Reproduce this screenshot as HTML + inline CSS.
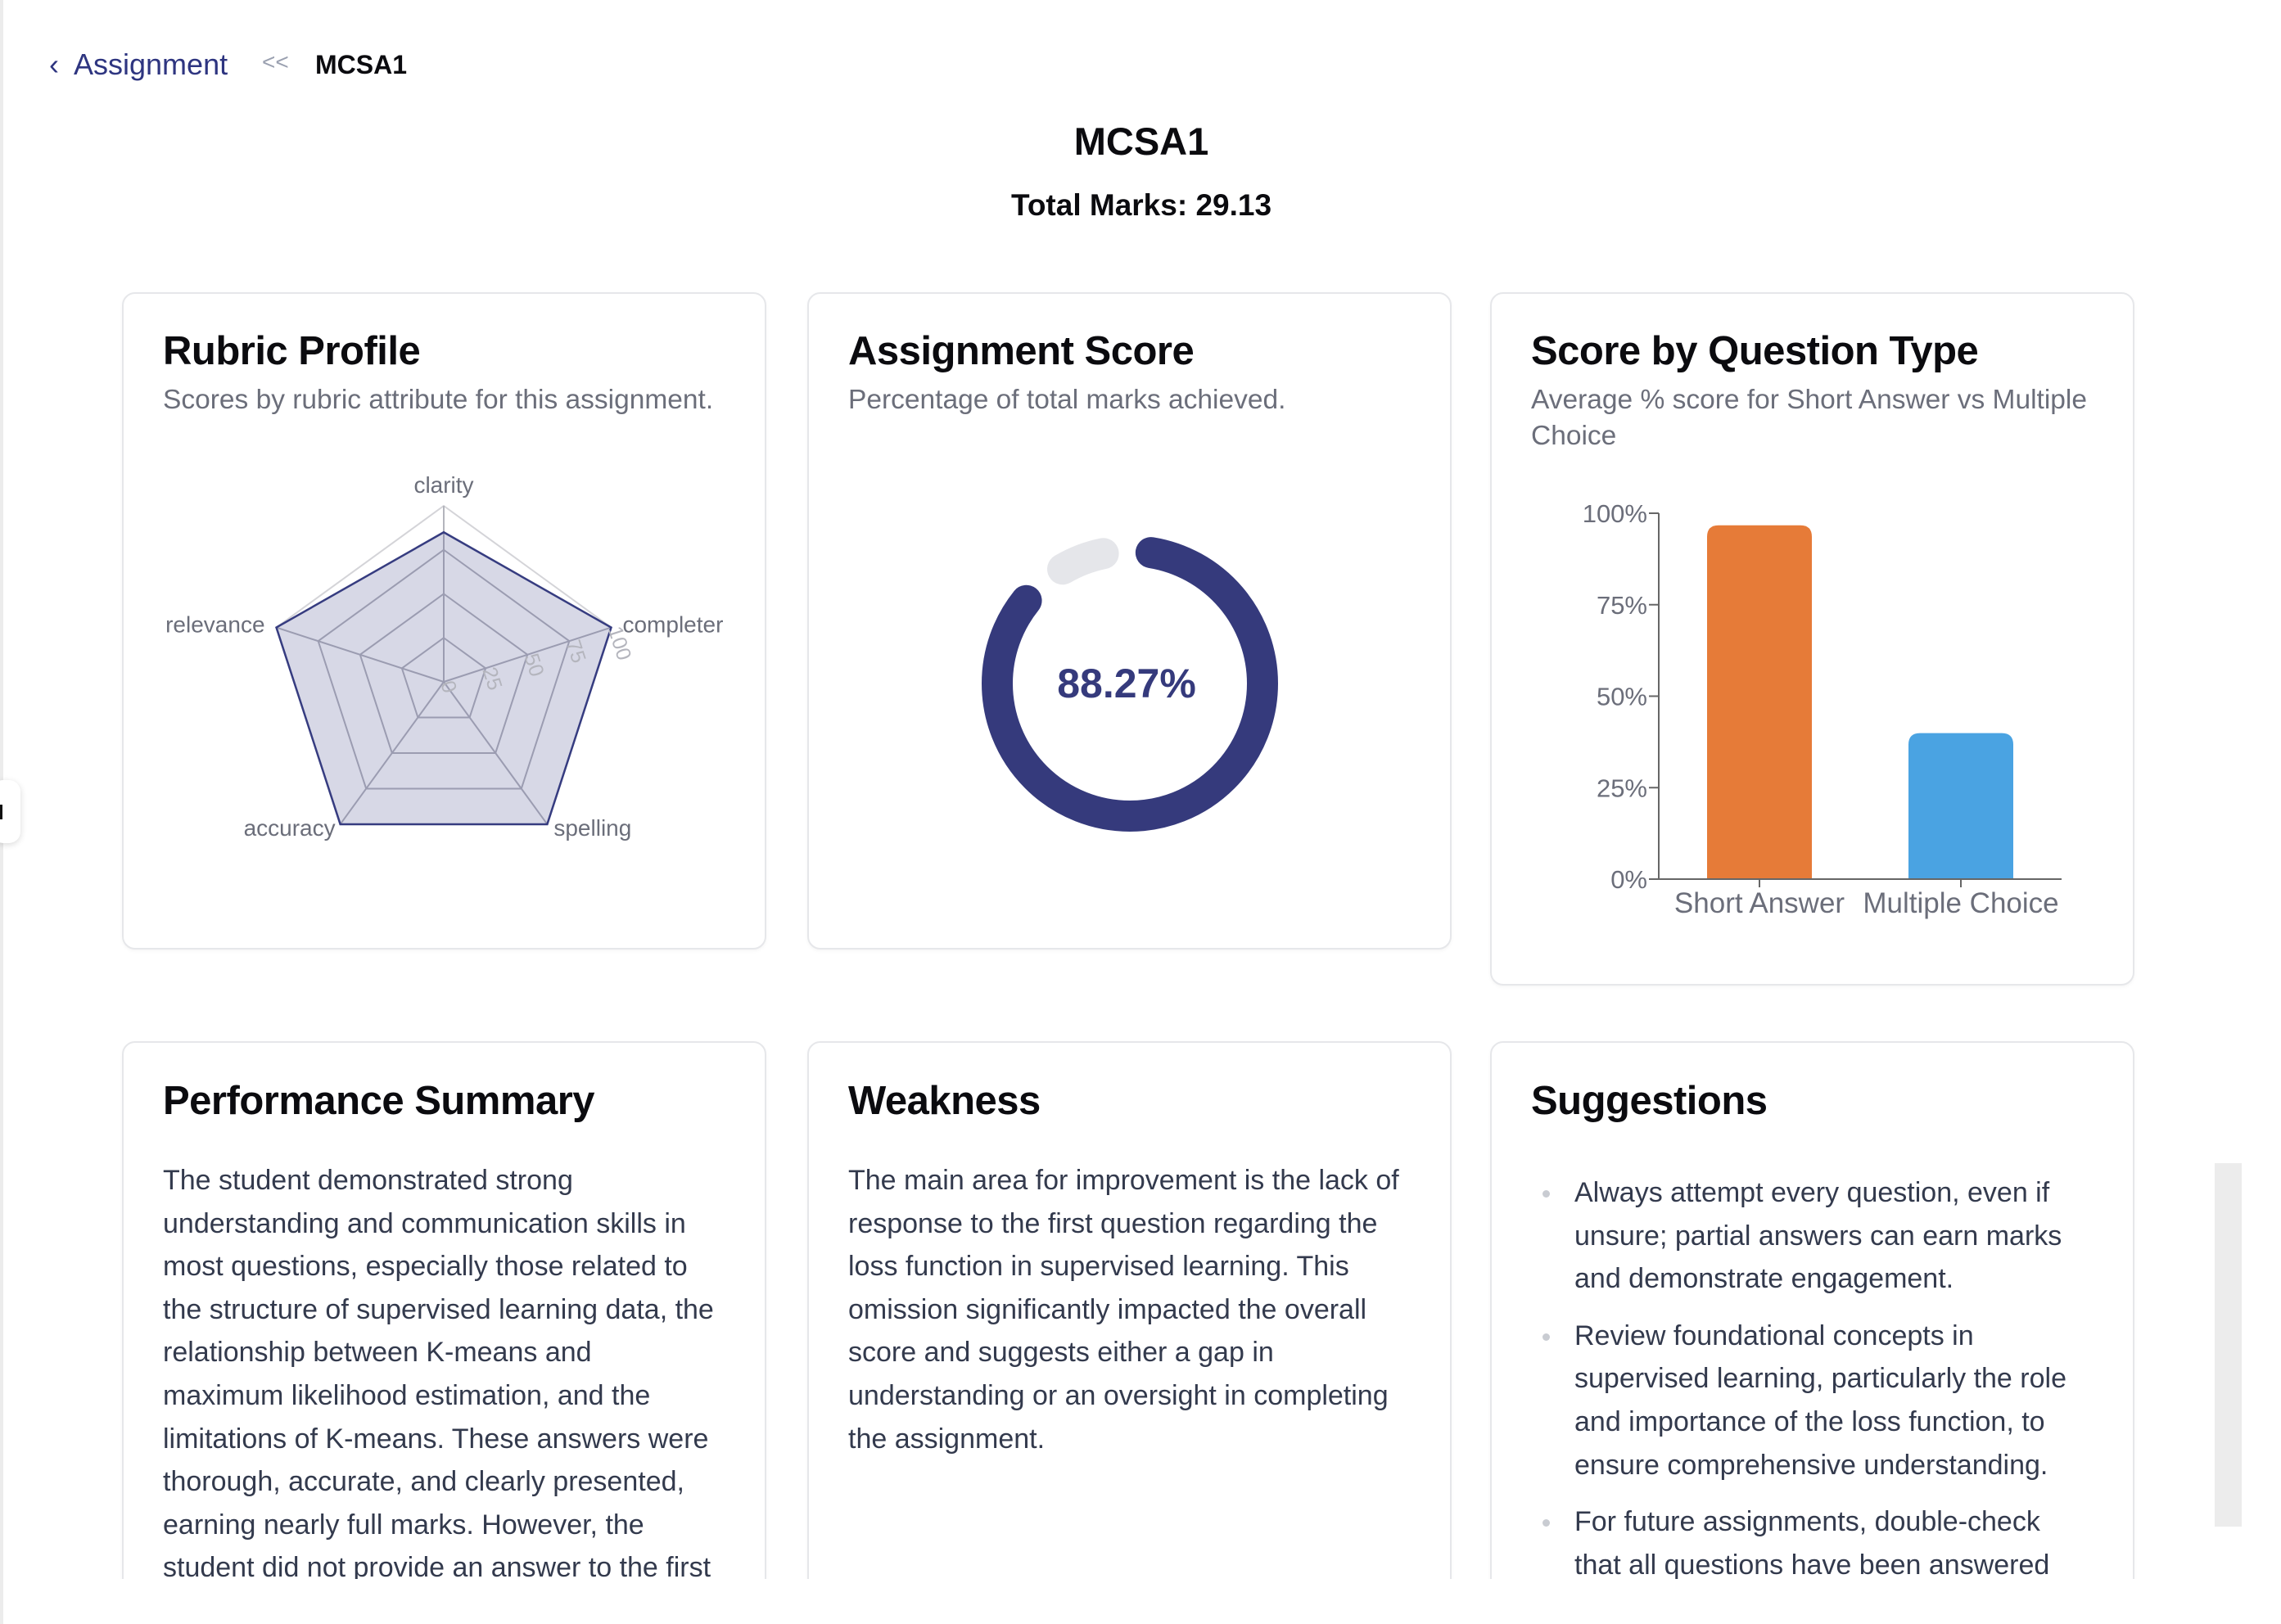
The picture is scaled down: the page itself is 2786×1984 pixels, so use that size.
<!DOCTYPE html>
<html><head><meta charset="utf-8">
<style>
*{box-sizing:border-box;margin:0;padding:0}
html,body{width:2786px;height:1984px;overflow:hidden}
body{background:#fff;font-family:"Liberation Sans",sans-serif;position:relative;color:#333a4d}
.abs{position:absolute;white-space:nowrap}
.card{position:absolute;background:#fff;border:2px solid #e6e7ea;border-radius:16px;box-shadow:0 2px 4px rgba(0,0,0,0.04)}
.ct{position:absolute;left:48px;font-size:49px;font-weight:bold;color:#0b0b0f;letter-spacing:-0.5px;white-space:nowrap}
.cs{position:absolute;left:48px;font-size:33.5px;color:#6b6e7a;line-height:44px;white-space:nowrap}
.body{position:absolute;left:48px;font-size:34px;line-height:52.6px;color:#333a4d;white-space:nowrap}
.li{position:relative;padding-left:53px}
.li:before{content:"";position:absolute;left:14px;top:23px;width:9px;height:9px;border-radius:50%;background:#c9ccd2}
</style></head><body>
<div class="abs" style="left:0;top:0;width:4px;height:1984px;background:#ececec"></div>
<div class="abs" style="left:-10px;top:953px;width:35px;height:77px;background:#fff;border-radius:14px;box-shadow:0 2px 8px rgba(0,0,0,0.15)"><div style="position:absolute;left:10px;top:30px;width:3px;height:18px;background:#111"></div></div>
<div class="abs" style="left:2705px;top:1421px;width:33px;height:444px;background:#ececec"></div>

<div class="abs" style="left:60px;top:58px;font-size:36px;color:#2e3580">‹&nbsp; Assignment</div>
<div class="abs" style="left:320px;top:60px;font-size:28px;color:#9aa0b0">&lt;&lt;</div>
<div class="abs" style="left:385px;top:61px;font-size:32px;font-weight:bold;color:#0b0b0f">MCSA1</div>
<div class="abs" style="left:0;width:2788px;text-align:center;top:145px;font-size:47px;font-weight:bold;color:#0b0b0f">MCSA1</div>
<div class="abs" style="left:0;width:2788px;text-align:center;top:230px;font-size:37px;font-weight:bold;color:#0b0b0f">Total Marks: 29.13</div>

<!-- Rubric card -->
<div class="card" style="left:149px;top:357px;width:787px;height:803px">
<div class="ct" style="top:42px">Rubric Profile</div>
<div class="cs" style="top:108px">Scores by rubric attribute for this assignment.</div>
</div>
<svg id="radar" class="abs" style="left:0;top:0" width="1000" height="1200"></svg>

<!-- Score card -->
<div class="card" style="left:986px;top:357px;width:787px;height:803px">
<div class="ct" style="top:42px">Assignment Score</div>
<div class="cs" style="top:108px">Percentage of total marks achieved.</div>
</div>
<svg id="donut" class="abs" style="left:1180px;top:635px" width="400" height="400"></svg>

<!-- Question type card -->
<div class="card" style="left:1820px;top:357px;width:787px;height:847px">
<div class="ct" style="top:42px">Score by Question Type</div>
<div class="cs" style="top:108px">Average % score for Short Answer vs Multiple<br>Choice</div>
</div>
<svg id="bars" class="abs" style="left:1852px;top:560px" width="800" height="620"></svg>

<!-- Row 2 -->
<div class="abs" style="left:0;top:1269px;width:2786px;height:660px;overflow:hidden">
<div class="card" style="left:149px;top:3px;width:787px;height:900px">
<div class="ct" style="top:43px">Performance Summary</div>
<div class="body" style="top:142px">The student demonstrated strong<br>understanding and communication skills in<br>most questions, especially those related to<br>the structure of supervised learning data, the<br>relationship between K-means and<br>maximum likelihood estimation, and the<br>limitations of K-means. These answers were<br>thorough, accurate, and clearly presented,<br>earning nearly full marks. However, the<br>student did not provide an answer to the first</div>
</div>
<div class="card" style="left:986px;top:3px;width:787px;height:900px">
<div class="ct" style="top:43px">Weakness</div>
<div class="body" style="top:142px">The main area for improvement is the lack of<br>response to the first question regarding the<br>loss function in supervised learning. This<br>omission significantly impacted the overall<br>score and suggests either a gap in<br>understanding or an oversight in completing<br>the assignment.</div>
</div>
<div class="card" style="left:1820px;top:3px;width:787px;height:900px">
<div class="ct" style="top:43px">Suggestions</div>
<div class="body" style="top:157px;left:48px">
<div class="li" style="margin-bottom:17px">Always attempt every question, even if<br>unsure; partial answers can earn marks<br>and demonstrate engagement.</div>
<div class="li" style="margin-bottom:17px">Review foundational concepts in<br>supervised learning, particularly the role<br>and importance of the loss function, to<br>ensure comprehensive understanding.</div>
<div class="li">For future assignments, double-check<br>that all questions have been answered</div>
</div>
</div>
</div>

<script>
const NS="http://www.w3.org/2000/svg";
function mk(parent,tag,attrs){const e=document.createElementNS(NS,tag);for(const k in attrs)e.setAttribute(k,attrs[k]);parent.appendChild(e);return e;}

// ---- Radar data ----
const radarAxes=["clarity","completer","spelling","accuracy","relevance"];
const radarValues=[85,100,100,100,100];
const radarTicks=[0,25,50,75,100];
(function(){
const svg=document.getElementById('radar');
const cx=542,cy=833,R=215;
const ang=i=>-Math.PI/2+i*2*Math.PI/radarAxes.length;
const pt=(i,v)=>[cx+Math.cos(ang(i))*R*v/100,cy+Math.sin(ang(i))*R*v/100];
radarTicks.forEach(t=>{if(t===0)return;
  const p=mk(svg,'polygon',{points:radarAxes.map((a,i)=>pt(i,t).join(',')).join(' '),fill:'none',stroke:t===100?'#d4d4d8':'#b4b5bd','stroke-width':2});
  
  
});
radarAxes.forEach((a,i)=>{const e=pt(i,100);
  const l=mk(svg,'line',{x1:cx,y1:cy,x2:e[0],y2:e[1],stroke:'#b4b5bd','stroke-width':2});
  
  
});
const poly=mk(svg,'polygon',{points:radarValues.map((v,i)=>pt(i,v).join(',')).join(' '),fill:'rgba(54,60,128,0.2)',stroke:'#363c80','stroke-width':2.5});


radarTicks.forEach(t=>{const p=pt(1,t);
  const tx=mk(svg,'text',{x:p[0]-4,y:p[1]+2,'font-size':25,fill:'#b4b5bd','font-family':'Liberation Sans, sans-serif',transform:'rotate(72 '+(p[0]-4)+' '+(p[1]+2)+')'});
  tx.textContent=t;
  
  
});
const anchors=['middle','start','start','end','end'];
const offs=[[0,-16],[14,6],[8,14],[-6,14],[-14,6]];
radarAxes.forEach((a,i)=>{const e=pt(i,100);
  const tx=mk(svg,'text',{x:e[0]+offs[i][0],y:e[1]+offs[i][1],'text-anchor':anchors[i],'font-size':28,fill:'#6b6e7a','font-family':'Liberation Sans, sans-serif'});
  tx.textContent=a;
  
  
});
})();

// ---- Donut data ----
const scorePercent=[88.27];
(function(){
const svg=document.getElementById('donut');
const cx=200,cy=200,r=162,sw=38;
const C=2*Math.PI*r;
const gap=28;
const v=scorePercent[0]/100;
const bg=mk(svg,'circle',{cx:cx,cy:cy,r:r,fill:'none',stroke:'#e5e6ea','stroke-width':sw,'stroke-linecap':'round',
 'stroke-dasharray':Math.max(0,C*(1-v)-gap-sw)+' '+C,'stroke-dashoffset':-(C*v+gap/2+sw/2),transform:'rotate(-90 200 200)'});


const fg=mk(svg,'circle',{cx:cx,cy:cy,r:r,fill:'none',stroke:'#353a7c','stroke-width':sw,'stroke-linecap':'round',
 'stroke-dasharray':Math.max(0,C*v-sw-gap/2)+' '+C,'stroke-dashoffset':-(sw/2+gap/4),transform:'rotate(-90 200 200)'});


const t=mk(svg,'text',{x:cx-4,y:cy+17,'text-anchor':'middle','font-size':50,'font-weight':'bold',fill:'#353a7c','font-family':'Liberation Sans, sans-serif'});
t.textContent=scorePercent[0].toFixed(2)+'%';


})();

// ---- Bar data ----
const barCategories=["Short Answer","Multiple Choice"];
const barValues=[96.7,39.9];
const barColors=["#e67b38","#4aa3e2"];
const barTicks=[0,25,50,75,100];
(function(){
const svg=document.getElementById('bars');
const ox=174,x1=666,y0=514,yTop=67;
const y=v=>y0-(y0-yTop)*v/100;
const band=(x1-ox)/barCategories.length;
const bw=128;
barCategories.forEach((c,i)=>{
  const cxp=ox+band*(i+0.5);
  const top=y(barValues[i]);
  const p=mk(svg,'path',{d:`M${cxp-bw/2},${y0} V${top+14} Q${cxp-bw/2},${top} ${cxp-bw/2+14},${top} H${cxp+bw/2-14} Q${cxp+bw/2},${top} ${cxp+bw/2},${top+14} V${y0} Z`,fill:barColors[i]});
  
  
  const tk=mk(svg,'line',{x1:cxp,x2:cxp,y1:y0,y2:y0+10,stroke:'#666','stroke-width':2});
  
  
  const tx=mk(svg,'text',{x:cxp,y:y0+41,'text-anchor':'middle','font-size':35,fill:'#6b6e7a','font-family':'Liberation Sans, sans-serif'});
  tx.textContent=c;
  
  
});
barTicks.forEach(t=>{
  const tk=mk(svg,'line',{x1:ox-12,x2:ox,y1:y(t),y2:y(t),stroke:'#666','stroke-width':2});
  
  
  const tx=mk(svg,'text',{x:ox-14,y:y(t)+11,'text-anchor':'end','font-size':31,fill:'#6b6e7a','font-family':'Liberation Sans, sans-serif'});
  tx.textContent=t+'%';
  
  
});
const ya=mk(svg,'line',{x1:ox,x2:ox,y1:yTop,y2:y0,stroke:'#666','stroke-width':2});


const xa=mk(svg,'line',{x1:ox,x2:x1,y1:y0,y2:y0,stroke:'#666','stroke-width':2});


})();
</script>
</body></html>
